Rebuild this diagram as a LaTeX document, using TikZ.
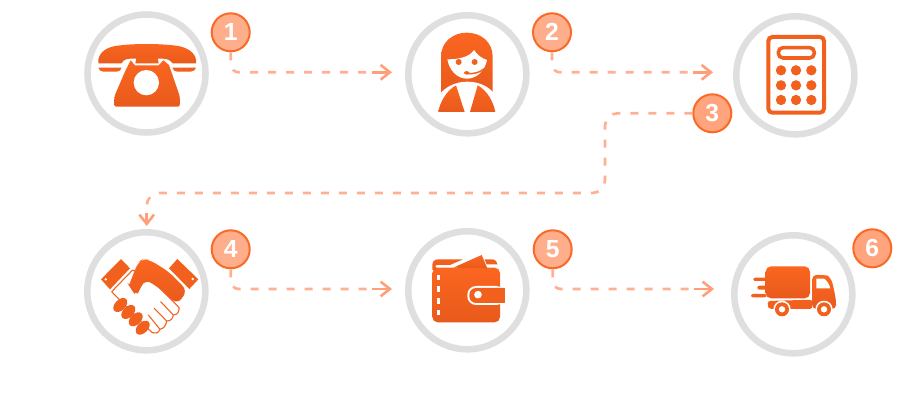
\documentclass[tikz,border=0pt]{standalone}
\usepackage{fontspec}
\setmainfont{Liberation Sans}
\usetikzlibrary{arrows.meta}
\definecolor{ringc}{HTML}{DFDFDF}
\definecolor{icotop}{HTML}{FB6620}
\definecolor{icobot}{HTML}{E85A1C}
\definecolor{icoc}{HTML}{F2601E}
\definecolor{badgef}{HTML}{FFAE8C}
\definecolor{badgeg}{HTML}{FFA47C}
\definecolor{badged}{HTML}{FA6A26}
\definecolor{flowc}{HTML}{FFB092}
\definecolor{tipc}{HTML}{FF9E78}
\tikzset{
  ring/.style={circle,draw=ringc,line width=4.9pt,minimum size=88.5pt,inner sep=0pt,fill=white},
  badge/.style={circle,draw=badged,line width=1.5pt,fill=badgef,minimum size=28.5pt,inner sep=0pt,text=white,font=\fontsize{18.5}{20}\selectfont\bfseries},
  flow/.style={draw=flowc,line width=2pt,dash pattern=on 6pt off 7.5pt,rounded corners=6pt},
  flowtip/.style={draw=tipc,line width=2pt,-{Straight Barb[length=7pt,width=11pt,line width=1.9pt]}},
  ico/.style={top color=icotop,bottom color=icobot,draw=none},
  icos/.style={fill=icoc,draw=none},
  wht/.style={fill=white,draw=none},
  thin ico/.style={draw=icoc,line width=.8pt,fill=white},
}
\begin{document}
\begin{tikzpicture}[x=0.75pt,y=-0.75pt]
\path[use as bounding box,fill=white] (0,0) rectangle (920,420);
% rings
\node[ring] (r1) at (146.5,73.5) {};
\node[ring] (r2) at (467.3,74.3) {};
\node[ring] (r3) at (795.3,75.3) {};
\node[ring] (r4) at (146.3,291.3) {};
\node[ring] (r5) at (467.3,290.3) {};
\node[ring] (r6) at (793.3,294.3) {};
% badges
\node[badge] (b1) at (230.7,32.3) {1};
\node[badge] (b2) at (552,32.3) {2};
\node[badge,fill=badgeg] (b3) at (712.3,113.3) {3};
\node[badge] (b4) at (230.7,249.3) {4};
\node[badge] (b5) at (552.7,249.3) {5};
\node[badge,fill=badgeg] (b6) at (872.3,248.3) {6};
% connector ends
\coordinate (e1) at (392,72.3);
\coordinate (s1) at (372,72.3);
\coordinate (e2) at (713,72.3);
\coordinate (s2) at (693,72.3);
\coordinate (t3) at (605,193);
\coordinate (m3) at (146.7,213);
\coordinate (e3) at (146.7,226);
\coordinate (e4) at (392,289);
\coordinate (s4) at (372,289);
\coordinate (e5) at (714,289);
\coordinate (s5) at (694,289);
\draw[flow] (b1.south) |- (s1);
\draw[flowtip] (s1) -- (e1);
\draw[flow] (b2.south) |- (s2);
\draw[flowtip] (s2) -- (e2);
\draw[flow,rounded corners=9.5pt] (b3.west) -| (t3) -| (m3);
\draw[flowtip] (m3) -- (e3);
\draw[flow] (b4.south) |- (s4);
\draw[flowtip] (s4) -- (e4);
\draw[flow] (b5.south) |- (s5);
\draw[flowtip] (s5) -- (e5);
% telephone
\begin{scope}[shift={(70,0)},scale=1/3]
\path[ico] (85,190) .. controls (82,165) and (100,145) .. (135,138) .. controls (190,130) and (270,130) .. (325,138) .. controls (360,145) and (382,165) .. (378,190) -- (308,190) .. controls (300,180) and (292,176) .. (278,176) -- (182,176) .. controls (168,176) and (160,180) .. (155,190) -- cycle;
\path[icos] (85,203) -- (155,203) .. controls (153,210) and (148,215) .. (140,215) -- (100,215) .. controls (92,215) and (87,210) .. (85,203) -- cycle;
\path[icos] (378,203) -- (307,203) .. controls (309,210) and (314,215) .. (322,215) -- (362,215) .. controls (370,215) and (376,210) .. (378,203) -- cycle;
\path[ico] (182,181) -- (195,196) -- (266,196) -- (280,181) -- (297,195) -- (328,285) .. controls (330,295) and (330,310) .. (329,316) -- (325,320) -- (137,320) -- (133,316) .. controls (132,305) and (133,295) .. (135,285) -- (165,215) -- cycle;
\path[icos] (199,174) -- (263,174) -- (266,190) -- (196,190) -- cycle;
\path[wht] (229,248) circle[radius=38];
\end{scope}
% agent
\begin{scope}[shift={(390,0)},scale=1/3]
\path[ico] (153,285) -- (153,170) .. controls (153,125) and (190,98) .. (230,98) .. controls (272,98) and (308,125) .. (308,170) -- (308,285) -- cycle;
\path[wht] (172,178) .. controls (205,178) and (238,172) .. (252,150) .. controls (262,165) and (275,175) .. (291,180) .. controls (285,212) and (260,236) .. (231,236) .. controls (202,236) and (178,212) .. (172,178) -- cycle;
\path[wht] (140,340) -- (140,295) .. controls (160,262) and (195,245) .. (232,245) .. controls (270,245) and (305,262) .. (322,295) -- (322,340) -- cycle;
\path[ico] (145,336) .. controls (150,305) and (170,272) .. (198,256) -- (224,336) -- cycle;
\path[ico] (316,336) .. controls (310,305) and (292,272) .. (263,256) -- (240,336) -- cycle;
\path[icos] (206,186) circle[radius=9];
\path[icos] (254,186) circle[radius=9];
\path[icos,rounded corners=2pt] (222,213) rectangle (238,224);
\draw[icoc,line width=1.1pt,line cap=round] (232,221) .. controls (250,222) and (270,218) .. (281,207);
\end{scope}
% calculator
\begin{scope}[shift={(680,0)},scale=1/3]
\draw[icoc,line width=3pt,rounded corners=3pt] (265,111) rectangle (432,338);
\draw[icoc,line width=2.7pt,rounded corners=3.5pt] (295,143) rectangle (403,174);
\foreach \px in {303,348,394}
  \foreach \py in {211,256,300}
    \path[icos] (\px,\py) circle[radius=15.5];
\end{scope}
% handshake
\begin{scope}[shift={(95,250)},scale=1/3]
\path[icos] (18,88) -- (78,27) -- (105,55) -- (45,118) -- cycle;
\path[wht] (32,88) circle[radius=4];
\path[icos] (222,55) -- (247,27) -- (310,88) -- (283,117) -- cycle;
\path[wht] (293,87) circle[radius=4];
% white hand outline
\path[thin ico,line join=round] (50,125) -- (113,60) -- (170,90) -- (252,172) .. controls (254,185) and (247,195) .. (235,195) .. controls (233,208) and (226,213) .. (215,213) .. controls (213,228) and (205,236) .. (195,238) .. controls (190,250) and (180,252) .. (172,248) -- (155,232) -- cycle;
\draw[icoc,line width=.8pt,line cap=round] (197,155) -- (235,195);
\draw[icoc,line width=.8pt,line cap=round] (178,175) -- (215,213);
\draw[icoc,line width=.8pt,line cap=round] (160,195) -- (195,238);
% orange hand
\path[ico,rounded corners=5pt] (130,35) -- (145,27) -- (165,30) -- (222,66) -- (277,122) -- (247,163) -- (187,110) -- (150,88) -- (137,114) .. controls (130,127) and (115,127) .. (107,116) .. controls (102,107) and (105,98) .. (108,90) -- cycle;
% orange fingers
\foreach \cx/\cy in {76/165,100/186,122/208,143/233}
  \path[icos,rotate around={45:(\cx,\cy)}] (\cx,\cy) ellipse[x radius=25,y radius=16];
\end{scope}
% wallet
\begin{scope}[shift={(390,215)},scale=1/3]
\path[ico,rounded corners=4pt] (127,158) rectangle (330,322);
\path[icos] (127,165) -- (127,150) .. controls (127,140) and (133,133) .. (145,133) -- (219,133) -- (180,150) -- (140,150) .. controls (135,150) and (133,156) .. (140,158) -- (140,165) -- cycle;
\path[icos] (284,133) -- (305,133) .. controls (315,133) and (322,140) .. (323,148) -- (290,148) -- cycle;
\path[ico] (190,158) -- (275,120) -- (292,160) -- cycle;
\path[wht] (140,180) rectangle (149,195);
\path[wht] (140,213) rectangle (149,231);
\path[wht] (140,249) rectangle (149,266);
\path[wht] (140,285) rectangle (149,300);
\path[wht,rounded corners=6.5pt] (345,213) -- (232,213) -- (232,270) -- (345,270) -- cycle;
\path[icos,rounded corners=5pt] (360,219) -- (238,219) -- (238,264) -- (360,264) -- cycle;
\path[wht] (344,205) rectangle (365,280);
\path[wht] (264,239) circle[radius=11.5];
\end{scope}
% truck
\begin{scope}[shift={(700,215)},scale=1/3]
\path[ico,rounded corners=4pt] (197,154) rectangle (330,250);
\path[icos,rounded corners=1.5pt] (160,188) rectangle (200,198);
\path[icos,rounded corners=1.5pt] (172,212) rectangle (200,224);
\path[icos,rounded corners=1.5pt] (153,237) rectangle (200,247);
\path[ico,rounded corners=3pt] (337,180) -- (370,180) .. controls (385,182) and (395,195) .. (400,215) -- (408,255) -- (408,282) -- (337,282) -- cycle;
\path[icos,rounded corners=2pt] (203,258) -- (337,254) -- (337,282) -- (222,282) -- (208,282) -- (203,272) -- cycle;
\path[wht] (349,191) -- (372,191) .. controls (380,195) and (388,208) .. (391,220) -- (349,220) -- cycle;
\foreach \wx in {246,372} {
  \path[wht] (\wx,283) circle[radius=26];
  \path[icos] (\wx,283) circle[radius=21];
  \path[wht] (\wx,283) circle[radius=9.5];
}
\end{scope}
\end{tikzpicture}
\end{document}
